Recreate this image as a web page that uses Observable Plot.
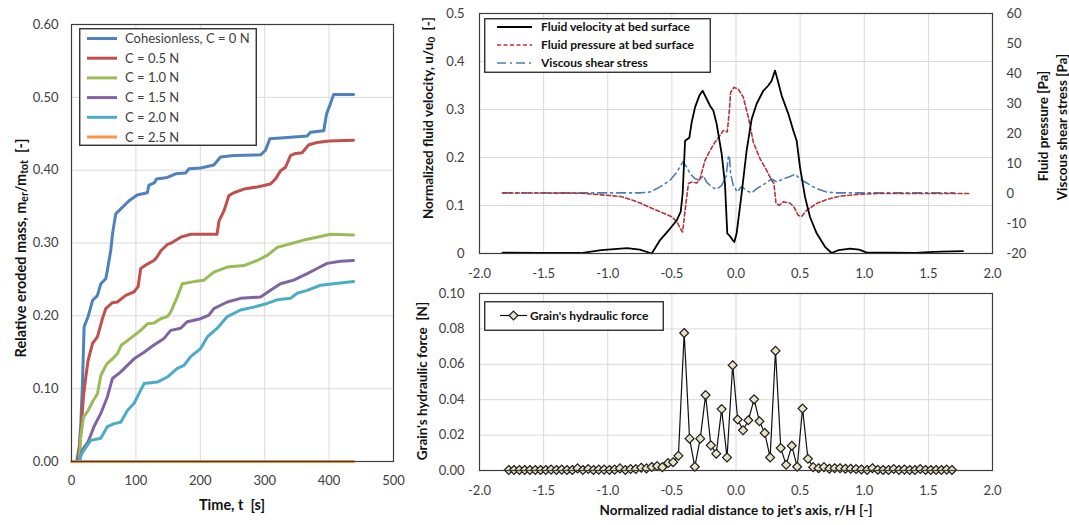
<!DOCTYPE html>
<html><head><meta charset="utf-8">
<script src="https://cdn.jsdelivr.net/npm/d3@7"></script>
<script src="https://cdn.jsdelivr.net/npm/@observablehq/plot@0.6"></script>
<style>
body{margin:0;background:#fff;}
#root{position:relative;width:1069px;height:525px;overflow:hidden;font-family:Lato,'Open Sans',sans-serif;background:#fff;}
.pane{position:absolute;}
.rot{position:absolute;transform:translate(-50%,-50%) rotate(-90deg);white-space:nowrap;font-weight:bold;color:#111;}
.hz{position:absolute;transform:translate(-50%,-50%);white-space:nowrap;font-weight:bold;color:#111;}
sub{font-size:72%;vertical-align:-0.25em;line-height:0;}
.leg{position:absolute;}
</style></head>
<body>
<div id="root">
  <div class="pane" id="left" style="left:0;top:0"></div>
  <div class="pane" id="tr" style="left:420px;top:0"></div>
  <div class="pane" id="br" style="left:420px;top:285px"></div>
  <div class="rot" style="left:20px;top:248px;font-size:14.5px">Relative eroded mass, m<sub>er</sub>/m<sub>tot</sub>&nbsp;&nbsp;[-]</div>
  <div class="hz" style="left:232px;top:504px;font-size:14.5px">Time, t&nbsp;&nbsp;[s]</div>
  <div class="rot" style="left:428px;top:118px;font-size:13.5px">Normalized fluid velocity, u/u<sub>0</sub>&nbsp;&nbsp;[-]</div>
  <div class="rot" style="left:1043px;top:126px;font-size:13.5px">Fluid pressure [Pa]</div>
  <div class="rot" style="left:1062px;top:127px;font-size:13.5px">Viscous shear stress [Pa]</div>
  <div class="rot" style="left:422px;top:381px;font-size:13.5px">Grain's hydraulic force&nbsp;&nbsp;[N]</div>
  <div class="hz" style="left:736px;top:510px;font-size:13.5px">Normalized radial distance to jet's axis, r/H [-]</div>
</div>
<script>
// ---------------- Left panel data: relative eroded mass vs time ----------------
const seriesNames = ["Cohesionless, C = 0 N", "C = 0.5 N", "C = 1.0 N", "C = 1.5 N", "C = 2.0 N", "C = 2.5 N"];
const tC00 = [8, 12, 14.5, 17, 19.6, 25.8, 32.6, 40.3, 45.5, 53.2, 55.8, 61, 63.6, 68.7, 79, 89.4, 102, 117.8, 120, 129, 132, 148.8, 161.8, 177, 182.4, 200.5, 221, 231.5, 252, 293.5, 301, 308, 324.5, 366, 371, 391.7, 396, 402, 407, 438];
const mC00 = [0, 0.02, 0.052, 0.107, 0.185, 0.199, 0.221, 0.228, 0.244, 0.251, 0.263, 0.29, 0.312, 0.34, 0.349, 0.358, 0.366, 0.369, 0.379, 0.383, 0.388, 0.39, 0.395, 0.396, 0.402, 0.403, 0.407, 0.418, 0.42, 0.421, 0.427, 0.443, 0.444, 0.447, 0.452, 0.454, 0.477, 0.491, 0.504, 0.504];
const tC05 = [10, 14.5, 18.6, 22.2, 25.8, 32.6, 40.3, 48, 53.2, 63.6, 71.3, 84.2, 97.2, 103.4, 107.5, 117.8, 128, 133, 138.5, 148.8, 155, 169.5, 185, 226, 229, 236.7, 244.4, 252, 267.7, 288.4, 309, 316.8, 324.5, 332.3, 340, 347.8, 358, 368.5, 381.4, 399.5, 438];
const mC05 = [0, 0.04, 0.089, 0.116, 0.139, 0.162, 0.171, 0.196, 0.21, 0.218, 0.219, 0.228, 0.233, 0.24, 0.265, 0.271, 0.276, 0.281, 0.289, 0.298, 0.3, 0.308, 0.312, 0.312, 0.33, 0.344, 0.365, 0.369, 0.374, 0.377, 0.381, 0.388, 0.399, 0.404, 0.42, 0.423, 0.424, 0.435, 0.438, 0.44, 0.441];
const tC10 = [12, 14.5, 18.6, 25.8, 32.6, 40.3, 45.5, 54.8, 63.6, 71.3, 77.5, 86.8, 97.2, 107.5, 117.8, 128, 138.5, 148.8, 154, 164.3, 172, 190, 205.7, 221, 241.9, 267.7, 288.4, 303.9, 314, 319.4, 340, 360.7, 386.6, 402, 438];
const mC10 = [0, 0.034, 0.061, 0.07, 0.082, 0.093, 0.118, 0.134, 0.141, 0.148, 0.16, 0.166, 0.173, 0.18, 0.189, 0.19, 0.196, 0.199, 0.205, 0.226, 0.244, 0.247, 0.249, 0.26, 0.267, 0.269, 0.276, 0.283, 0.29, 0.294, 0.299, 0.304, 0.309, 0.312, 0.311];
const tC15 = [12, 17, 25.8, 35, 45.5, 55.8, 63.6, 76.5, 86.8, 97.2, 112.7, 128, 143.7, 154, 169.5, 179.8, 200.5, 213.4, 221, 241.9, 262.5, 293.5, 309, 324.5, 345, 366, 381.4, 397, 417.6, 438];
const mC15 = [0, 0.016, 0.027, 0.048, 0.066, 0.089, 0.114, 0.123, 0.132, 0.141, 0.15, 0.16, 0.169, 0.18, 0.183, 0.192, 0.196, 0.201, 0.21, 0.219, 0.224, 0.226, 0.235, 0.244, 0.249, 0.258, 0.265, 0.272, 0.275, 0.276];
const tC20 = [13, 14.5, 19.6, 30, 45.5, 55.8, 66.1, 76.5, 86.8, 97.2, 107.5, 112.7, 133.3, 148.8, 164.3, 174.7, 185, 200.5, 210.9, 226.4, 241.9, 262.5, 283.2, 303.9, 319.4, 340, 350.4, 366, 386.6, 407, 438];
const mC20 = [0, 0.009, 0.016, 0.029, 0.032, 0.048, 0.052, 0.054, 0.07, 0.08, 0.098, 0.107, 0.109, 0.116, 0.128, 0.132, 0.144, 0.155, 0.171, 0.183, 0.199, 0.208, 0.212, 0.217, 0.222, 0.224, 0.231, 0.235, 0.242, 0.244, 0.247];
const tC25 = [0, 438];
const mC25 = [0, 0];
const timeTicks = [0, 100, 200, 300, 400, 500];
const massTicks = [0, 0.1, 0.2, 0.3, 0.4, 0.5, 0.6];

// ---------------- Top-right data: profiles along r/H ----------------
const rVel = [-1.82, -1.55, -1.21, -1.05, -0.85, -0.75, -0.657, -0.592, -0.514, -0.462, -0.431, -0.416, -0.397, -0.364, -0.345, -0.319, -0.286, -0.26, -0.234, -0.203, -0.177, -0.151, -0.112, -0.086, -0.068, -0.047, -0.026, -0.013, 0.005, 0.044, 0.083, 0.122, 0.161, 0.213, 0.252, 0.278, 0.304, 0.322, 0.356, 0.408, 0.447, 0.473, 0.499, 0.538, 0.577, 0.629, 0.694, 0.745, 0.8, 0.89, 0.96, 1.02, 1.2, 1.4, 1.5, 1.6, 1.77];
const uVel = [0.002, 0.001, 0.001, 0.007, 0.011, 0.008, 0, 0.028, 0.052, 0.069, 0.087, 0.125, 0.235, 0.241, 0.274, 0.305, 0.329, 0.339, 0.325, 0.308, 0.298, 0.27, 0.208, 0.145, 0.042, 0.036, 0.028, 0.024, 0.042, 0.125, 0.215, 0.28, 0.312, 0.339, 0.35, 0.36, 0.381, 0.364, 0.329, 0.291, 0.256, 0.235, 0.18, 0.118, 0.076, 0.042, 0.014, 0.001, 0.007, 0.01, 0.008, 0.002, 0.002, 0.001, 0.003, 0.004, 0.005];
const rPres = [-1.82, -1.2, -0.9, -0.8, -0.748, -0.696, -0.618, -0.55, -0.5, -0.46, -0.43, -0.416, -0.397, -0.371, -0.345, -0.306, -0.281, -0.242, -0.203, -0.164, -0.125, -0.099, -0.078, -0.068, -0.052, -0.042, -0.016, 0.018, 0.057, 0.096, 0.135, 0.187, 0.239, 0.278, 0.296, 0.312, 0.338, 0.369, 0.421, 0.452, 0.486, 0.512, 0.551, 0.629, 0.707, 0.81, 0.95, 1.1, 1.82];
const pPres = [0.2, 0.1, -1.0, -2.3, -3.2, -4.2, -5.6, -6.8, -7.8, -9.5, -12.0, -12.8, -5.6, 3.3, 3.8, 3.5, 4.9, 11.0, 14.3, 17.1, 19.3, 21.0, 20.7, 20.5, 27.6, 33.7, 35.4, 34.8, 32.1, 25.4, 17.1, 11.6, 7.7, 4.4, 3.3, -3.3, -3.9, -2.8, -3.2, -4.5, -7.3, -7.6, -5.6, -3.3, -2.0, -0.9, -0.3, 0, 0];
const rShear = [-1.82, -0.75, -0.67, -0.592, -0.514, -0.462, -0.423, -0.415, -0.384, -0.358, -0.319, -0.281, -0.255, -0.229, -0.19, -0.151, -0.112, -0.078, -0.06, -0.052, -0.042, -0.021, 0.01, 0.044, 0.083, 0.122, 0.161, 0.226, 0.278, 0.317, 0.369, 0.421, 0.46, 0.499, 0.551, 0.629, 0.707, 0.784, 1.7];
const sShear = [0.2, 0.2, 0.5, 2.2, 4.4, 7.1, 9.9, 10.5, 8.8, 6.6, 4.9, 4.4, 6.0, 3.8, 2.2, 1.4, 2.7, 5.5, 12.1, 12.7, 6.6, 2.7, 0.5, 2.4, 0.9, 0.2, 1.6, 3.3, 4.9, 3.8, 4.9, 5.7, 6.4, 4.9, 3.5, 1.6, 0.5, 0.2, 0.2];
const rTicks = [-2, -1.5, -1, -0.5, 0, 0.5, 1, 1.5, 2];
const velTicks = [0, 0.1, 0.2, 0.3, 0.4, 0.5];
const paTicks = [-20, -10, 0, 10, 20, 30, 40, 50, 60];

// ---------------- Bottom-right data: grain hydraulic force ----------------
const rForce = [-1.772, -1.731, -1.689, -1.648, -1.607, -1.565, -1.524, -1.483, -1.442, -1.4, -1.359, -1.318, -1.276, -1.235, -1.194, -1.152, -1.111, -1.07, -1.028, -0.987, -0.946, -0.905, -0.863, -0.822, -0.781, -0.739, -0.698, -0.657, -0.615, -0.574,
  -0.529, -0.49, -0.449, -0.404, -0.362, -0.321, -0.279, -0.237, -0.196, -0.154, -0.112, -0.07, -0.026, 0.013, 0.055, 0.096, 0.141, 0.183, 0.224, 0.266, 0.308, 0.349, 0.391, 0.435, 0.477, 0.519, 0.561, 0.602, 0.644, 0.686, 0.728, 0.769, 0.811, 0.853, 0.894, 0.936, 0.978, 1.022, 1.064, 1.106,
  1.147, 1.189, 1.23, 1.271, 1.313, 1.354, 1.395, 1.437, 1.478, 1.519, 1.56, 1.602, 1.643, 1.684];
const fForce = [0.0003, 0.0003, 0.0003, 0.0003, 0.0003, 0.0003, 0.0003, 0.0003, 0.0005, 0.0003, 0.0005, 0.0003, 0.0003, 0.0012, 0.0003, 0.0008, 0.0003, 0.0005, 0.0005, 0.0003, 0.0005, 0.0012, 0.0003, 0.0008, 0.0008, 0.0016, 0.0012, 0.002, 0.0025, 0.0019,
  0.0042, 0.0047, 0.0083, 0.0777, 0.018, 0.0021, 0.018, 0.0426, 0.0142, 0.0095, 0.0347, 0.0074, 0.0595, 0.0288, 0.0227, 0.0284, 0.0402, 0.0278, 0.0212, 0.0074, 0.0676, 0.0127, 0.0032, 0.014, 0.0021, 0.035, 0.0066, 0.0019, 0.0013, 0.0019, 0.001, 0.0013, 0.0013, 0.001, 0.001, 0.0008, 0.0006, 0.0003, 0.0013, 0.0004,
  0.0003, 0.0003, 0.0008, 0.0003, 0.0005, 0.0003, 0.0003, 0.0008, 0.0003, 0.0003, 0.0003, 0.0003, 0.0005, 0.0003];
const forceTicks = [0, 0.02, 0.04, 0.06, 0.08, 0.1];

// ---------------- styles ----------------
const FONT = "Lato, 'Open Sans', sans-serif";
const GRID = "#d9d9d9";
const FRAME = "#3c3c3c";
const seriesColors = ["#4F81BD", "#C0504D", "#9BBB59", "#8064A2", "#4BACC6", "#F79646"];
const seriesT = [tC00, tC05, tC10, tC15, tC20, tC25];
const seriesM = [mC00, mC05, mC10, mC15, mC20, mC25];
const pairs = (xs, ys) => xs.map((x, i) => ({x, y: ys[i]}));
const paToU = p => (p + 20) / 160; // right axis -20..60 Pa onto 0..0.5

const baseStyle = {fontFamily: FONT, fontSize: "13px", color: "#404040", background: "transparent", overflow: "visible"};

// ---------------- Left plot ----------------
const left = Plot.plot({
  width: 400, height: 525,
  marginLeft: 71, marginRight: 7, marginTop: 24, marginBottom: 64,
  style: baseStyle,
  x: {domain: [0, 500]},
  y: {domain: [0, 0.6]},
  marks: [
    Plot.gridX(timeTicks, {stroke: GRID, strokeOpacity: 1}),
    Plot.gridY(massTicks, {stroke: GRID, strokeOpacity: 1}),
    ...seriesT.map((ts, k) => Plot.line(pairs(ts, seriesM[k]), {x: "x", y: "y", stroke: seriesColors[k], strokeWidth: 3, strokeLinejoin: "round"})),
    Plot.frame({stroke: FRAME, strokeWidth: 1.2}),
    Plot.axisX(timeTicks, {tickSize: 0, tickPadding: 14, tickFormat: d => String(d), label: null}),
    Plot.axisY(massTicks, {tickSize: 0, tickPadding: 13, tickFormat: d => d.toFixed(2), label: null})
  ]
});
document.getElementById("left").append(left);

// ---------------- Top-right plot ----------------
const tr = Plot.plot({
  width: 649, height: 285,
  marginLeft: 59, marginRight: 77, marginTop: 13, marginBottom: 32,
  style: baseStyle,
  x: {domain: [-2, 2]},
  y: {domain: [0, 0.5]},
  marks: [
    Plot.gridX(rTicks, {stroke: GRID, strokeOpacity: 1}),
    Plot.gridY(velTicks, {stroke: GRID, strokeOpacity: 1}),
    Plot.line(pairs(rShear, sShear), {x: "x", y: d => paToU(d.y), stroke: "#4A7EBB", strokeWidth: 1.6, strokeDasharray: "9,4,2,4"}),
    Plot.line(pairs(rPres, pPres), {x: "x", y: d => paToU(d.y), stroke: "#B0363A", strokeWidth: 1.6, strokeDasharray: "4,2.5"}),
    Plot.line(pairs(rVel, uVel), {x: "x", y: "y", stroke: "#000", strokeWidth: 1.8, strokeLinejoin: "round"}),
    Plot.frame({stroke: FRAME, strokeWidth: 1.2}),
    Plot.axisX(rTicks, {tickSize: 0, tickPadding: 15, tickFormat: d => d.toFixed(1), label: null}),
    Plot.axisY(velTicks, {anchor: "left", tickSize: 0, tickPadding: 15, tickFormat: d => d === 0 ? "0" : d.toFixed(1), label: null}),
    Plot.axisY(paTicks.map(paToU), {anchor: "right", tickSize: 0, tickPadding: 14, tickFormat: d => String(Math.round(d * 160 - 20)), label: null})
  ]
});
document.getElementById("tr").append(tr);

// ---------------- Bottom-right plot ----------------
const br = Plot.plot({
  width: 649, height: 240,
  marginLeft: 59, marginRight: 77, marginTop: 8, marginBottom: 55,
  style: baseStyle,
  x: {domain: [-2, 2]},
  y: {domain: [0, 0.1]},
  marks: [
    Plot.gridX(rTicks, {stroke: GRID, strokeOpacity: 1}),
    Plot.gridY(forceTicks, {stroke: GRID, strokeOpacity: 1}),
    Plot.line(pairs(rForce, fForce), {x: "x", y: "y", stroke: "#111", strokeWidth: 1.2}),
    Plot.dot(pairs(rForce, fForce), {x: "x", y: "y", symbol: "diamond2", r: 4, fill: "#E8E3C6", stroke: "#1a1a1a", strokeWidth: 1.2}),
    Plot.frame({stroke: FRAME, strokeWidth: 1.2}),
    Plot.axisX(rTicks, {tickSize: 0, tickPadding: 15, tickFormat: d => d.toFixed(1), label: null}),
    Plot.axisY(forceTicks, {tickSize: 0, tickPadding: 15, tickFormat: d => d.toFixed(2), label: null})
  ]
});
document.getElementById("br").append(br);

// ---------------- Legends (SVG overlays) ----------------
const root = d3.select("#root");
function legend(box, rows) {
  const svg = root.append("svg").attr("class", "leg")
    .style("left", box.left + "px").style("top", box.top + "px")
    .attr("width", box.w).attr("height", box.h)
    .style("font-family", FONT).style("overflow", "visible");
  svg.append("rect").attr("x", 0.75).attr("y", 0.75).attr("width", box.w - 1.5).attr("height", box.h - 1.5)
    .attr("fill", "#fff").attr("stroke", "#222").attr("stroke-width", 1.3);
  rows.forEach(r => {
    svg.append("line").attr("x1", r.x1).attr("x2", r.x2).attr("y1", r.y).attr("y2", r.y)
      .attr("stroke", r.color).attr("stroke-width", r.sw).attr("stroke-dasharray", r.dash || null);
    if (r.marker) {
      const s = 4.4;
      svg.append("path").attr("d", `M${r.marker},${r.y - s}L${r.marker + s},${r.y}L${r.marker},${r.y + s}L${r.marker - s},${r.y}Z`)
        .attr("fill", "#E8E3C6").attr("stroke", "#1a1a1a").attr("stroke-width", 1.2);
    }
    svg.append("text").attr("x", r.tx).attr("y", r.y).attr("dy", "0.35em")
      .attr("font-size", r.fs).attr("font-weight", r.bold ? "bold" : "normal")
      .attr("fill", r.bold ? "#111" : "#404040").text(r.label);
  });
}
legend({left: 79, top: 28, w: 178, h: 118},
  seriesNames.map((name, k) => ({y: 10.5 + k * 19.7, x1: 8, x2: 38, color: seriesColors[k], sw: 3, tx: 46, fs: 13, label: name})));
const profileNames = ["Fluid velocity at bed surface", "Fluid pressure at bed surface", "Viscous shear stress"];
legend({left: 484, top: 18, w: 227, h: 55}, [
  {y: 9, x1: 13, x2: 48, color: "#000", sw: 1.8, tx: 57, fs: 12, bold: true, label: profileNames[0]},
  {y: 27, x1: 13, x2: 48, color: "#B0363A", sw: 1.6, dash: "4,2.5", tx: 57, fs: 12, bold: true, label: profileNames[1]},
  {y: 45, x1: 13, x2: 48, color: "#4A7EBB", sw: 1.6, dash: "9,4,2,4", tx: 57, fs: 12, bold: true, label: profileNames[2]}
]);
legend({left: 484, top: 301, w: 180, h: 30}, [
  {y: 14.5, x1: 16, x2: 43, color: "#111", sw: 1.2, marker: 29.5, tx: 46, fs: 12, bold: true, label: "Grain's hydraulic force"}
]);
</script>
</body></html>
